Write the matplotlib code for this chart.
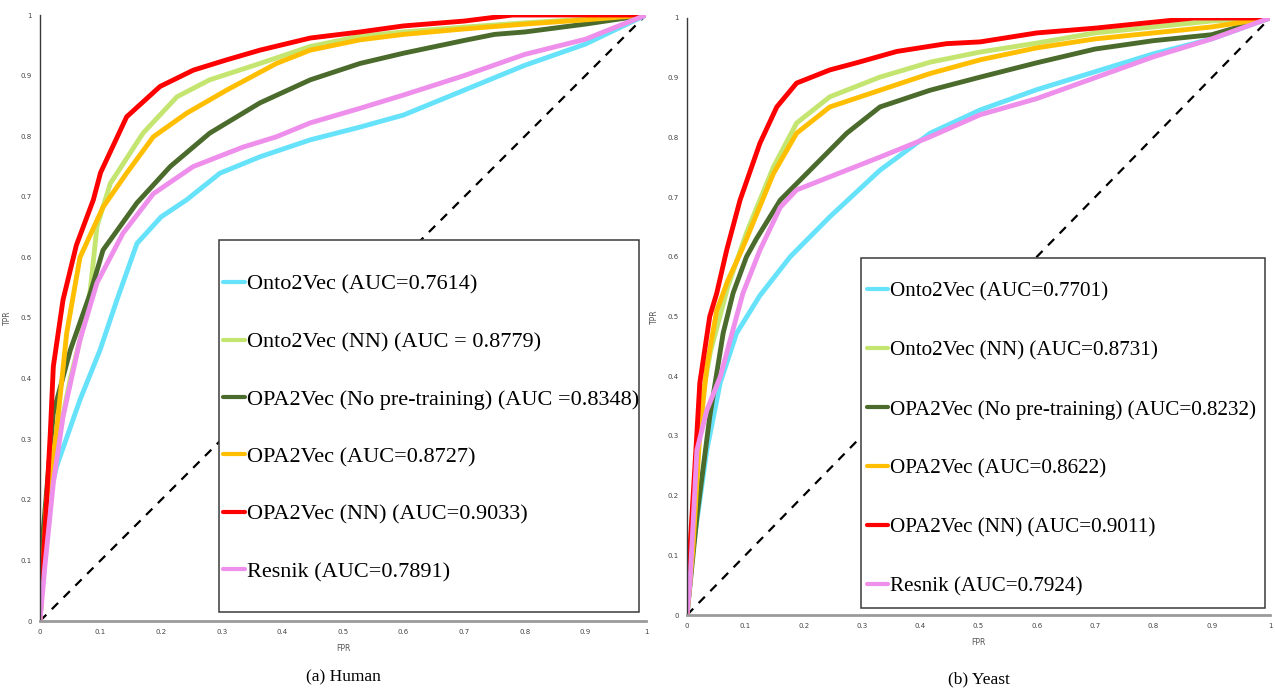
import matplotlib
matplotlib.use("Agg")
import matplotlib.pyplot as plt
from matplotlib.patches import Rectangle
from matplotlib.ticker import FuncFormatter

# ---------------- data ----------------
series_names = ["Onto2Vec", "Onto2Vec (NN)", "OPA2Vec (No pre-training)",
                "OPA2Vec", "OPA2Vec (NN)", "Resnik"]
colors = ["#66E2FA", "#C4E670", "#4B6B2C", "#FFBF00", "#FF0000", "#EE8FEC"]

human_labels = ["Onto2Vec (AUC=0.7614)", "Onto2Vec (NN) (AUC = 0.8779)",
                "OPA2Vec (No pre-training) (AUC =0.8348)", "OPA2Vec (AUC=0.8727)",
                "OPA2Vec (NN) (AUC=0.9033)", "Resnik (AUC=0.7891)"]
yeast_labels = ["Onto2Vec (AUC=0.7701)", "Onto2Vec (NN) (AUC=0.8731)",
                "OPA2Vec (No pre-training) (AUC=0.8232)", "OPA2Vec (AUC=0.8622)",
                "OPA2Vec (NN) (AUC=0.9011)", "Resnik (AUC=0.7924)"]

# Human
h_cyan_x = [0, 0.004, 0.015, 0.027, 0.066, 0.099, 0.127, 0.16, 0.2, 0.242, 0.297, 0.363, 0.446, 0.528, 0.6, 0.7, 0.8, 0.9, 1.0]
h_cyan_y = [0, 0.1, 0.2, 0.254, 0.365, 0.447, 0.53, 0.623, 0.667, 0.695, 0.739, 0.766, 0.794, 0.815, 0.835, 0.876, 0.917, 0.952, 1.0]
h_lgreen_x = [0, 0.01, 0.02, 0.05, 0.07, 0.083, 0.094, 0.116, 0.17, 0.226, 0.28, 0.363, 0.446, 0.528, 0.6, 0.7, 0.8, 0.9, 1.0]
h_lgreen_y = [0, 0.15, 0.25, 0.4, 0.48, 0.546, 0.651, 0.722, 0.805, 0.865, 0.893, 0.92, 0.948, 0.965, 0.972, 0.98, 0.987, 0.993, 1.0]
h_dgreen_x = [0, 0.005, 0.022, 0.05, 0.083, 0.104, 0.16, 0.215, 0.28, 0.363, 0.446, 0.528, 0.6, 0.7, 0.75, 0.8, 0.9, 1.0]
h_dgreen_y = [0, 0.145, 0.343, 0.447, 0.541, 0.612, 0.69, 0.75, 0.805, 0.855, 0.893, 0.92, 0.937, 0.958, 0.968, 0.972, 0.985, 1.0]
h_orange_x = [0, 0.011, 0.027, 0.044, 0.066, 0.104, 0.143, 0.187, 0.242, 0.308, 0.39, 0.446, 0.528, 0.6, 0.7, 0.8, 0.9, 1.0]
h_orange_y = [0, 0.2, 0.31, 0.475, 0.6, 0.683, 0.739, 0.799, 0.838, 0.876, 0.92, 0.942, 0.959, 0.968, 0.977, 0.985, 0.992, 1.0]
h_red_x = [0, 0.008, 0.017, 0.022, 0.038, 0.06, 0.088, 0.1, 0.143, 0.198, 0.253, 0.308, 0.363, 0.446, 0.528, 0.6, 0.7, 0.78, 1.0]
h_red_y = [0, 0.145, 0.31, 0.42, 0.53, 0.62, 0.695, 0.74, 0.832, 0.882, 0.909, 0.926, 0.942, 0.962, 0.972, 0.982, 0.99, 1.0, 1.0]
h_pink_x = [0, 0.008, 0.022, 0.038, 0.066, 0.094, 0.137, 0.187, 0.253, 0.335, 0.39, 0.446, 0.528, 0.6, 0.7, 0.8, 0.9, 1.0]
h_pink_y = [0, 0.09, 0.228, 0.337, 0.464, 0.558, 0.64, 0.705, 0.75, 0.782, 0.799, 0.822, 0.846, 0.868, 0.9, 0.935, 0.96, 1.0]

# Yeast
y_cyan_x = [0, 0.01, 0.034, 0.057, 0.085, 0.125, 0.177, 0.245, 0.331, 0.417, 0.503, 0.6, 0.7, 0.8, 0.9, 1.0]
y_cyan_y = [0, 0.109, 0.276, 0.389, 0.472, 0.535, 0.6, 0.667, 0.745, 0.807, 0.846, 0.88, 0.91, 0.94, 0.965, 1.0]
y_lgreen_x = [0, 0.005, 0.02, 0.04, 0.07, 0.102, 0.148, 0.188, 0.245, 0.331, 0.417, 0.503, 0.6, 0.7, 0.8, 0.9, 1.0]
y_lgreen_y = [0, 0.1, 0.33, 0.44, 0.55, 0.64, 0.75, 0.824, 0.868, 0.901, 0.926, 0.943, 0.958, 0.975, 0.985, 0.995, 1.0]
y_dgreen_x = [0, 0.017, 0.039, 0.062, 0.079, 0.102, 0.119, 0.16, 0.216, 0.274, 0.331, 0.417, 0.503, 0.6, 0.7, 0.8, 0.9, 1.0]
y_dgreen_y = [0, 0.165, 0.332, 0.472, 0.539, 0.6, 0.63, 0.695, 0.75, 0.807, 0.851, 0.879, 0.901, 0.925, 0.948, 0.962, 0.972, 1.0]
y_orange_x = [0, 0.01, 0.022, 0.034, 0.051, 0.07, 0.091, 0.102, 0.148, 0.188, 0.245, 0.331, 0.417, 0.503, 0.6, 0.7, 0.8, 0.9, 1.0]
y_orange_y = [0, 0.109, 0.305, 0.416, 0.51, 0.56, 0.605, 0.63, 0.739, 0.807, 0.851, 0.879, 0.907, 0.93, 0.95, 0.965, 0.975, 0.985, 1.0]
y_red_x = [0, 0.005, 0.017, 0.022, 0.039, 0.051, 0.068, 0.091, 0.125, 0.154, 0.188, 0.245, 0.291, 0.36, 0.445, 0.503, 0.6, 0.7, 0.8, 0.87, 1.0]
y_red_y = [0, 0.109, 0.305, 0.389, 0.5, 0.539, 0.611, 0.695, 0.79, 0.851, 0.891, 0.913, 0.925, 0.944, 0.957, 0.96, 0.975, 0.983, 0.993, 1.0, 1.0]
y_pink_x = [0, 0.005, 0.017, 0.034, 0.057, 0.085, 0.096, 0.125, 0.16, 0.188, 0.245, 0.331, 0.417, 0.503, 0.6, 0.7, 0.8, 0.9, 1.0]
y_pink_y = [0, 0.053, 0.276, 0.343, 0.399, 0.5, 0.539, 0.611, 0.683, 0.712, 0.734, 0.767, 0.801, 0.838, 0.865, 0.9, 0.935, 0.965, 1.0]

tick_values = [0, 0.1, 0.2, 0.3, 0.4, 0.5, 0.6, 0.7, 0.8, 0.9, 1.0]

human = [(h_cyan_x, h_cyan_y), (h_lgreen_x, h_lgreen_y), (h_dgreen_x, h_dgreen_y),
         (h_orange_x, h_orange_y), (h_red_x, h_red_y), (h_pink_x, h_pink_y)]
yeast = [(y_cyan_x, y_cyan_y), (y_lgreen_x, y_lgreen_y), (y_dgreen_x, y_dgreen_y),
         (y_orange_x, y_orange_y), (y_red_x, y_red_y), (y_pink_x, y_pink_y)]

# ---------------- figure ----------------
fig = plt.figure(figsize=(12.75, 6.98), dpi=100)
serif = ["Liberation Serif", "DejaVu Serif"]


def fmt(v, pos):
    if abs(v) < 1e-9:
        return "0"
    if abs(v - 1) < 1e-9:
        return "1"
    return f"{v:.1f}"


def panel(rect, data, labels, leg_rect, leg_anchor, leg_fs, leg_sp, caption, cap_xy):
    ax = fig.add_axes(rect)
    ax.set_xlim(0, 1)
    ax.set_ylim(0, 1)
    ax.plot([0, 1], [0, 1], color="black", lw=1.6, ls=(0, (4, 3.5)), zorder=1.5)
    handles = []
    for (xs, ys), c, lab in zip(data, colors, labels):
        ln, = ax.plot(xs, ys, color=c, lw=3.5, solid_joinstyle="round",
                      solid_capstyle="round", label=lab, zorder=2)
        handles.append(ln)
    for s in ["top", "right"]:
        ax.spines[s].set_visible(False)
    ax.spines["left"].set_color("#3a3a3a")
    ax.spines["left"].set_linewidth(1.0)
    ax.spines["bottom"].set_color("#9a9a9a")
    ax.spines["bottom"].set_linewidth(2.0)
    ax.set_xticks(tick_values)
    ax.set_yticks(tick_values)
    ax.xaxis.set_major_formatter(FuncFormatter(fmt))
    ax.yaxis.set_major_formatter(FuncFormatter(fmt))
    ax.tick_params(length=0, labelsize=5, colors="#444444", pad=6)
    ax.set_xlabel("FPR", fontsize=5.5, color="#555555", labelpad=6)
    ax.set_ylabel("TPR", fontsize=5.5, color="#555555", labelpad=6)
    ax.add_patch(Rectangle((leg_rect[0], leg_rect[1]), leg_rect[2], leg_rect[3],
                           transform=ax.transAxes, facecolor="white",
                           edgecolor="#3a3a3a", lw=1.1, zorder=4, clip_on=False))
    leg = ax.legend(handles=handles, loc="upper left", bbox_to_anchor=leg_anchor,
                    frameon=False, borderpad=0, borderaxespad=0,
                    handlelength=1.0, handletextpad=0.1, labelspacing=leg_sp,
                    prop={"family": serif, "size": leg_fs})
    leg.set_zorder(5)
    for h in leg.get_lines():
        h.set_linewidth(3.0)
    fig.text(cap_xy[0], cap_xy[1], caption, ha="center", va="center",
             fontsize=12.5, family=serif)
    return ax


panel([40 / 1275, 77 / 698, 606 / 1275, 606 / 698], human, human_labels,
      (0.295, 0.015, 0.693, 0.614), (0.302, 0.572), 16, 1.66,
      "(a) Human", (343 / 1275, 1 - 677 / 698))
panel([687 / 1275, 83 / 698, 583 / 1275, 597 / 698], yeast, yeast_labels,
      (0.298, 0.012, 0.693, 0.586), (0.309, 0.558), 15.2, 1.86,
      "(b) Yeast", (979 / 1275, 1 - 679 / 698))

fig.savefig("out.png", dpi=100)
